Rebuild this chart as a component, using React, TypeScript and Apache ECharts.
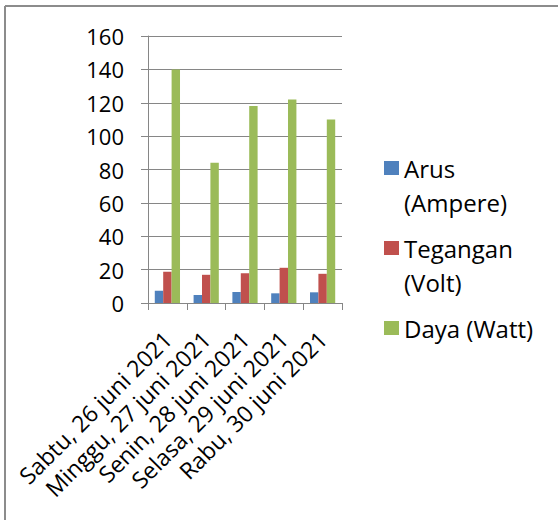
import React, { useEffect, useRef } from "react";
import * as echarts from "echarts";

const categories = [
  "Sabtu, 26 juni 2021",
  "Minggu, 27 juni 2021",
  "Senin, 28 juni 2021",
  "Selasa, 29 juni 2021",
  "Rabu, 30 juni 2021",
];
const seriesNames = ["Arus (Ampere)", "Tegangan (Volt)", "Daya (Watt)"];
const arus = [7.4, 4.8, 6.6, 5.8, 6.4];
const tegangan = [18.7, 16.9, 17.9, 21.1, 17.5];
const daya = [140, 84, 118, 122, 110];
const yTicks = { min: 0, max: 160, interval: 20 };

const colors = ["#4F81BD", "#C0504D", "#9BBB59"];
const legendLabels: Record<string, string> = {
  "Arus (Ampere)": "\nArus\n(Ampere)",
  "Tegangan (Volt)": "\nTegangan\n(Volt)",
  "Daya (Watt)": "Daya (Watt)",
};

export default function App() {
  const ref = useRef<HTMLDivElement>(null);
  useEffect(() => {
    if (!ref.current) return;
    const chart = echarts.init(ref.current, undefined, { renderer: "svg" });
    const font = "'Open Sans', sans-serif";
    const grey = "#868686";
    const legendTops = [117, 197, 311];
    chart.setOption({
      animation: false,
      backgroundColor: "#ffffff",
      color: colors,
      grid: { left: 148, right: 216, top: 36, bottom: 217, containLabel: false },
      legend: seriesNames.map((n, i) => ({
        data: [n],
        orient: "vertical",
        left: 384,
        top: legendTops[i],
        padding: 0,
        itemWidth: 15,
        itemHeight: 14,
        icon: "rect",
        selectedMode: false,
        formatter: (name: string) => legendLabels[name],
        textStyle: { fontFamily: font, fontSize: 24, color: "#000", lineHeight: 34 },
      })),
      xAxis: {
        type: "category",
        data: categories,
        axisLine: { show: true, lineStyle: { color: grey, width: 1 } },
        axisTick: { show: true, length: 7, lineStyle: { color: grey } },
        axisLabel: {
          rotate: 45,
          interval: 0,
          margin: 32,
          fontFamily: font,
          fontSize: 23,
          color: "#000",
        },
      },
      yAxis: {
        type: "value",
        min: yTicks.min,
        max: yTicks.max,
        interval: yTicks.interval,
        axisLine: { show: true, lineStyle: { color: grey, width: 1 } },
        axisTick: { show: true, length: 7, lineStyle: { color: grey } },
        splitLine: { show: true, lineStyle: { color: grey, width: 1 } },
        axisLabel: { margin: 24, fontFamily: font, fontSize: 22, color: "#000" },
      },
      series: [
        { name: seriesNames[0], type: "bar", data: arus, barGap: "0%", barCategoryGap: "35%" },
        { name: seriesNames[1], type: "bar", data: tegangan, barGap: "0%", barCategoryGap: "35%" },
        { name: seriesNames[2], type: "bar", data: daya, barGap: "0%", barCategoryGap: "35%" },
      ],
      graphic: [
        { type: "line", shape: { x1: 5, y1: 6, x2: 558, y2: 6 }, style: { stroke: "#8c8c8c", lineWidth: 2 } },
        { type: "line", shape: { x1: 5, y1: 6, x2: 5, y2: 520 }, style: { stroke: "#8c8c8c", lineWidth: 2 } },
      ],
    });
    return () => chart.dispose();
  }, []);
  return (
    <div
      ref={ref}
      style={{ position: "absolute", left: 0, top: 0, width: 558, height: 520 }}
    />
  );
}
